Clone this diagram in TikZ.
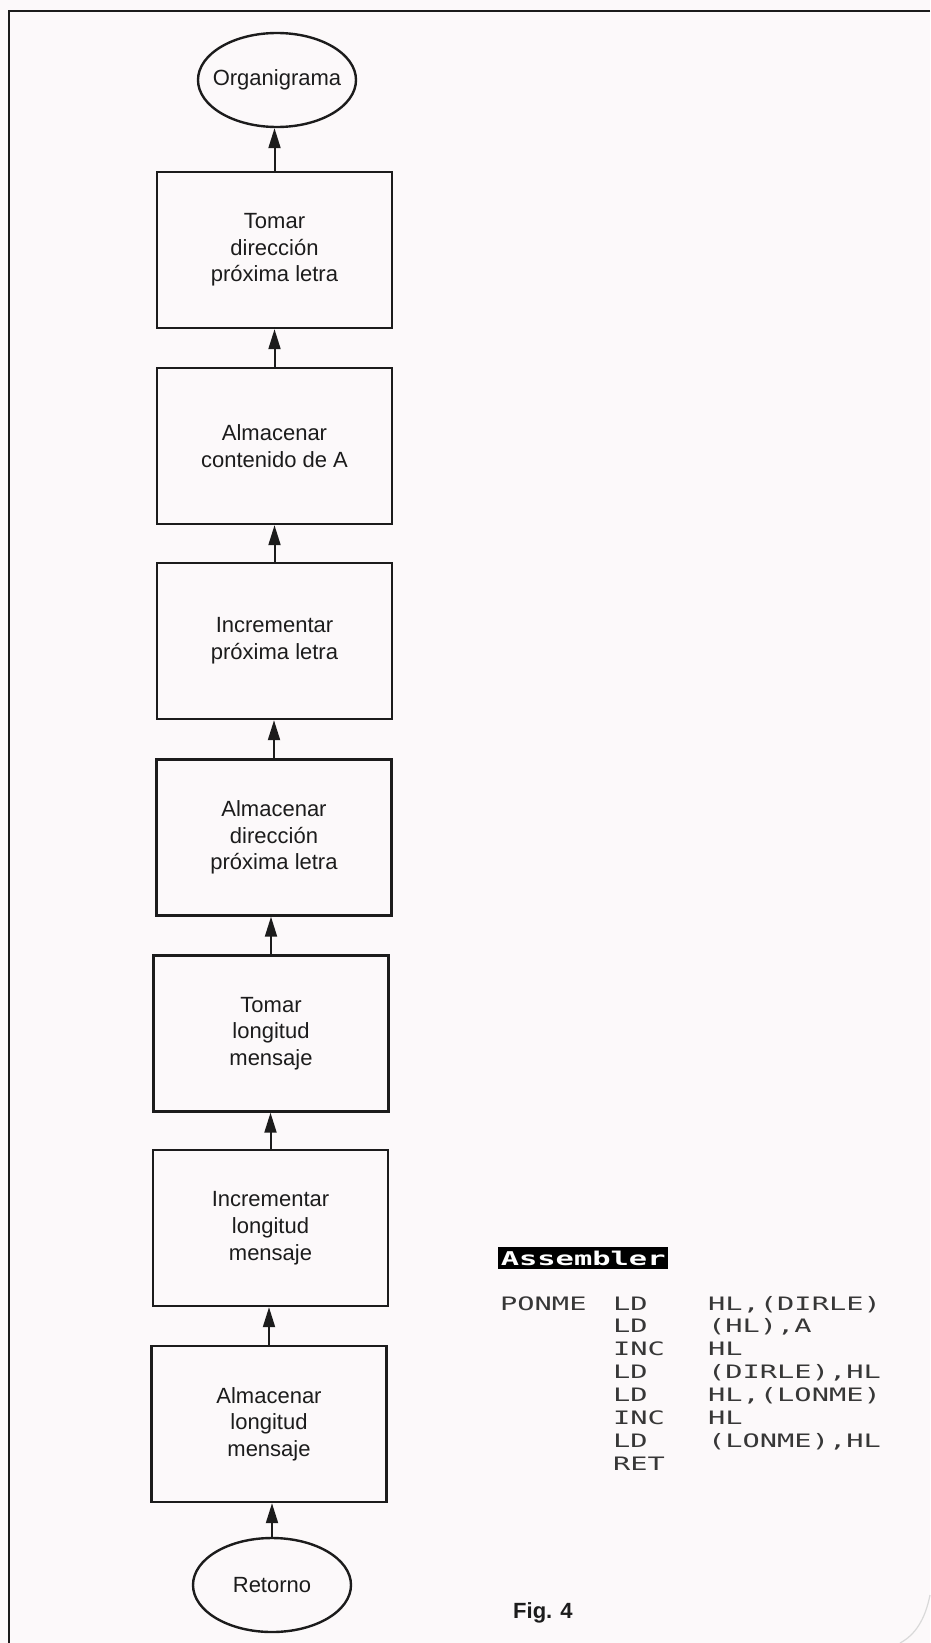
\documentclass[tikz,border=0pt]{standalone}
\usepackage{fontspec}
\setmainfont{Liberation Sans}
\newfontfamily\codefont[FakeStretch=1.55]{DejaVu Sans Mono}
\newfontfamily\labfont[FakeStretch=1.6]{DejaVu Sans Mono}
\usetikzlibrary{arrows.meta,shapes.geometric}
\definecolor{paper}{RGB}{252,249,250}
\definecolor{ink}{RGB}{28,28,28}
\definecolor{codeink}{RGB}{55,55,55}
\begin{document}
\begin{tikzpicture}[x=1pt,y=-1pt,
  stepbox/.style={draw=ink, line width=2.4pt, rectangle, minimum width=235pt, minimum height=156pt, inner sep=0pt, align=center, text=ink, font=\fontsize{22}{26.7}\selectfont},
  term/.style={draw=ink, line width=2.4pt, ellipse, minimum width=158pt, minimum height=94pt, inner xsep=-10pt, inner ysep=0pt, text=ink, font=\fontsize{22}{26.7}\selectfont},
  flow/.style={draw=ink, line width=2pt, -{Triangle[length=20pt,width=12pt]}}]
\fill[paper] (0,0) rectangle (930,1643);
\useasboundingbox (0,0) rectangle (930,1643);
% frame
\draw[ink, line width=2.6pt] (930,11) -- (9,11) -- (9,1643);
\draw[gray!30, line width=1.2pt] (930,1595) .. controls (925,1620) and (915,1635) .. (900,1643);
% flowchart
\node[term] (org) at (277,80) {Organigrama};
\node[stepbox] (b1) at (274.5,250) {Tomar\\dirección\\próxima letra};
\node[stepbox] (b2) at (274.5,446) {Almacenar\\contenido de A};
\node[stepbox] (b3) at (274.5,641) {Incrementar\\próxima letra};
\node[stepbox] (b4) at (274,837.5) {Almacenar\\dirección\\próxima letra};
\node[stepbox] (b5) at (271,1033.5) {Tomar\\longitud\\mensaje};
\node[stepbox] (b6) at (270.5,1228) {Incrementar\\longitud\\mensaje};
\node[stepbox] (b7) at (269,1424) {Almacenar\\longitud\\mensaje};
\node[term] (ret) at (272,1585) {Retorno};
\draw[flow] (b1.north) -- (b1.north |- org.south);
\draw[flow] (b2.north) -- (b2.north |- b1.south);
\draw[flow] (b3.north) -- (b3.north |- b2.south);
\draw[flow] (b4.north) -- (b4.north |- b3.south);
\draw[flow] (b5.north) -- (b5.north |- b4.south);
\draw[flow] (b6.north) -- (b6.north |- b5.south);
\draw[flow] (b7.north) -- (b7.north |- b6.south);
\draw[flow] (ret.north) -- (ret.north |- b7.south);
% assembler listing
\node[fill=black, text=white, inner sep=0pt, minimum height=22pt, minimum width=170pt, anchor=west, font=\labfont\bfseries\fontsize{19}{19}\selectfont] (lab) at (498,1258) {Assembler};
\node[anchor=base west, inner sep=0pt, text=codeink, font=\codefont\fontsize{18.5}{22.9}\selectfont] (code) at (500,1310) {\begin{tabular}[t]{@{}p{113pt}@{}p{95pt}@{}l@{}}
PONME & LD & HL,(DIRLE)\\
 & LD & (HL),A\\
 & INC & HL\\
 & LD & (DIRLE),HL\\
 & LD & HL,(LONME)\\
 & INC & HL\\
 & LD & (LONME),HL\\
 & RET & \\
\end{tabular}};
\node[anchor=base west, inner sep=0pt, text=ink, font=\bfseries\fontsize{22}{26}\selectfont] (fig) at (513,1618) {Fig. 4};
\end{tikzpicture}
\end{document}
